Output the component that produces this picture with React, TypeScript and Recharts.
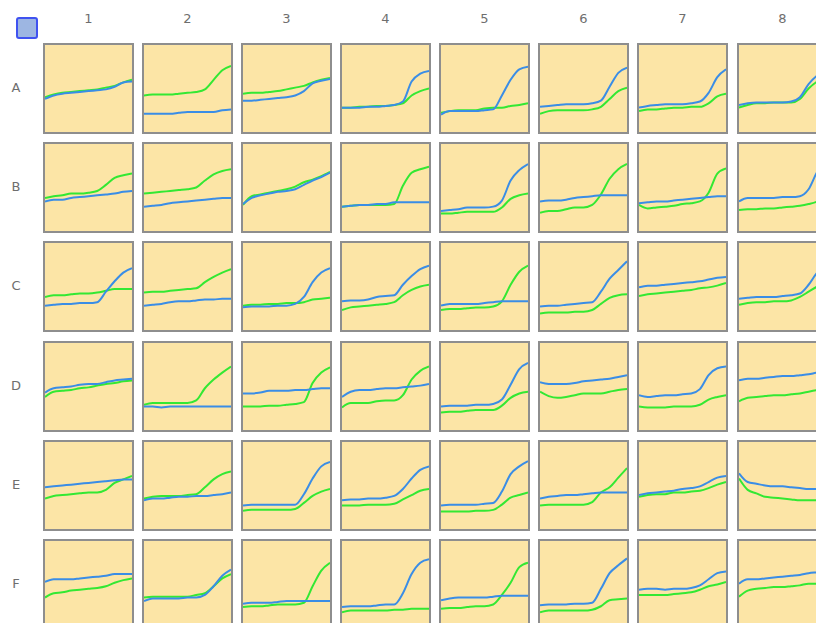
import React from "react";
import { LineChart, Line, XAxis, YAxis } from "recharts";

// plate layout
const rowLabels = ["A", "B", "C", "D", "E", "F"];
const colLabels = ["1", "2", "3", "4", "5", "6", "7", "8"];

// Each well holds two traces sampled at 11 evenly spaced cycles, in % of well height.
const blueA = [
  [38, 42, 44, 45, 46, 47, 48, 49, 52, 57, 58],
  [21, 21, 21, 21, 22, 23, 23, 23, 23, 25, 26],
  [36, 36, 37, 38, 39, 40, 42, 47, 56, 59, 61],
  [28, 28, 28, 29, 29, 30, 31, 35, 58, 67, 70],
  [20, 24, 24, 24, 24, 25, 26, 42, 60, 72, 75],
  [29, 30, 31, 32, 32, 32, 33, 36, 52, 68, 74],
  [28, 30, 31, 32, 32, 32, 33, 35, 45, 63, 72],
  [31, 33, 34, 34, 34, 34, 35, 40, 55, 65, 70],
];
const greenA = [
  [40, 43, 45, 46, 47, 48, 49, 51, 53, 57, 60],
  [42, 43, 43, 43, 44, 45, 46, 49, 60, 71, 76],
  [44, 45, 45, 46, 47, 49, 51, 53, 57, 60, 62],
  [28, 28, 29, 29, 30, 30, 31, 33, 42, 47, 50],
  [22, 24, 25, 25, 25, 27, 28, 28, 30, 31, 33],
  [21, 24, 25, 25, 25, 25, 26, 29, 38, 47, 51],
  [24, 26, 26, 27, 28, 28, 29, 29, 33, 41, 44],
  [28, 31, 33, 33, 34, 34, 34, 38, 50, 58, 62],
];

const blueB = [
  [34, 36, 36, 38, 39, 40, 41, 42, 43, 45, 46],
  [28, 29, 30, 32, 33, 34, 35, 36, 37, 38, 38],
  [31, 38, 41, 43, 45, 46, 48, 53, 58, 62, 67],
  [28, 29, 30, 30, 31, 31, 33, 33, 33, 33, 33],
  [23, 24, 25, 27, 27, 27, 28, 35, 58, 70, 77],
  [34, 35, 35, 36, 38, 39, 40, 41, 41, 41, 41],
  [32, 33, 34, 34, 35, 36, 37, 38, 39, 40, 40],
  [34, 38, 38, 38, 38, 39, 39, 40, 48, 68, 78],
];
const greenB = [
  [38, 40, 41, 43, 43, 44, 46, 53, 61, 64, 66],
  [43, 44, 45, 46, 47, 48, 50, 58, 65, 69, 71],
  [30, 40, 42, 44, 46, 48, 51, 56, 59, 63, 68],
  [28, 29, 30, 30, 30, 30, 31, 52, 67, 71, 74],
  [20, 20, 21, 22, 22, 22, 22, 27, 37, 41, 43],
  [21, 23, 23, 25, 27, 27, 30, 42, 60, 71, 77],
  [30, 26, 27, 28, 29, 31, 32, 34, 44, 66, 72],
  [24, 25, 25, 26, 26, 27, 28, 29, 31, 34, 40],
];

const blueC = [
  [28, 29, 30, 30, 31, 31, 32, 44, 56, 66, 71],
  [28, 29, 30, 32, 33, 33, 34, 35, 35, 36, 36],
  [26, 27, 27, 27, 28, 28, 30, 38, 55, 66, 71],
  [33, 34, 34, 35, 38, 39, 40, 52, 62, 70, 74],
  [28, 30, 30, 30, 30, 31, 32, 33, 33, 33, 33],
  [27, 28, 28, 29, 30, 31, 32, 44, 59, 69, 79],
  [49, 51, 51, 52, 53, 54, 55, 56, 58, 60, 61],
  [36, 37, 38, 38, 38, 39, 40, 42, 52, 66, 72],
];
const greenC = [
  [38, 40, 40, 41, 42, 42, 43, 45, 47, 47, 47],
  [43, 44, 44, 45, 46, 47, 48, 55, 61, 66, 70],
  [28, 29, 29, 30, 30, 31, 31, 32, 35, 36, 37],
  [23, 26, 27, 28, 29, 30, 32, 40, 46, 50, 52],
  [23, 24, 24, 25, 26, 26, 27, 33, 52, 67, 74],
  [19, 20, 20, 20, 21, 21, 23, 30, 37, 40, 41],
  [39, 41, 42, 43, 44, 45, 46, 48, 49, 51, 54],
  [29, 31, 32, 32, 33, 33, 34, 38, 44, 50, 55],
];

const blueD = [
  [43, 48, 49, 50, 52, 53, 53, 55, 57, 58, 59],
  [27, 27, 26, 27, 27, 27, 27, 27, 27, 27, 27],
  [42, 42, 43, 45, 45, 45, 46, 46, 47, 48, 48],
  [38, 44, 46, 46, 47, 48, 48, 49, 50, 51, 53],
  [27, 28, 28, 28, 29, 29, 30, 35, 52, 70, 77],
  [55, 53, 53, 53, 54, 56, 57, 58, 59, 61, 63],
  [40, 38, 39, 40, 40, 41, 42, 47, 63, 71, 73],
  [57, 59, 59, 60, 61, 62, 62, 63, 64, 66, 67],
];
const greenD = [
  [38, 44, 45, 46, 48, 49, 51, 53, 54, 56, 57],
  [29, 31, 31, 31, 31, 31, 34, 48, 58, 66, 73],
  [27, 27, 27, 28, 28, 29, 30, 32, 54, 66, 72],
  [26, 31, 31, 31, 33, 34, 34, 40, 58, 68, 73],
  [20, 21, 21, 22, 23, 23, 23, 28, 37, 42, 44],
  [44, 39, 37, 38, 40, 42, 42, 42, 44, 46, 47],
  [27, 26, 26, 26, 27, 27, 27, 29, 35, 38, 40],
  [33, 37, 38, 39, 40, 40, 41, 42, 44, 46, 48],
];

const blueE = [
  [48, 49, 50, 51, 52, 53, 54, 55, 56, 57, 57],
  [33, 35, 35, 36, 37, 37, 38, 38, 39, 40, 42],
  [27, 28, 28, 28, 28, 28, 28, 40, 58, 72, 77],
  [33, 34, 34, 35, 35, 36, 38, 46, 58, 68, 72],
  [27, 28, 28, 28, 28, 29, 30, 43, 63, 72, 78],
  [35, 37, 38, 39, 39, 40, 41, 42, 42, 42, 42],
  [39, 41, 42, 43, 44, 46, 47, 49, 54, 59, 61],
  [64, 54, 52, 50, 49, 49, 48, 47, 46, 46, 46],
];
const greenE = [
  [35, 38, 39, 40, 41, 42, 42, 45, 53, 57, 61],
  [35, 37, 38, 38, 38, 39, 40, 48, 57, 63, 66],
  [21, 22, 22, 22, 22, 22, 23, 30, 38, 43, 46],
  [27, 27, 27, 28, 28, 28, 29, 34, 39, 44, 46],
  [20, 20, 20, 20, 21, 21, 22, 28, 36, 39, 42],
  [27, 28, 28, 28, 28, 28, 31, 42, 48, 59, 70],
  [37, 39, 40, 40, 42, 42, 43, 44, 47, 51, 54],
  [58, 45, 41, 37, 36, 35, 34, 33, 33, 33, 33],
];

const blueF = [
  [53, 56, 56, 56, 57, 58, 59, 60, 62, 62, 62],
  [31, 34, 34, 34, 34, 35, 35, 38, 48, 60, 67],
  [28, 29, 29, 29, 30, 31, 31, 31, 31, 31, 31],
  [24, 25, 25, 25, 26, 27, 27, 40, 62, 75, 79],
  [32, 34, 35, 35, 35, 35, 36, 37, 37, 37, 37],
  [26, 27, 27, 27, 28, 28, 29, 45, 63, 72, 80],
  [44, 45, 45, 44, 45, 45, 46, 49, 56, 63, 65],
  [51, 56, 56, 57, 58, 59, 60, 61, 63, 64, 65],
];
const greenF = [
  [35, 40, 41, 43, 44, 45, 46, 48, 52, 55, 57],
  [35, 36, 36, 36, 36, 36, 38, 40, 48, 57, 62],
  [24, 25, 25, 26, 27, 27, 27, 29, 48, 66, 75],
  [18, 20, 20, 20, 20, 20, 21, 21, 22, 22, 22],
  [22, 23, 23, 24, 25, 25, 27, 38, 52, 70, 75],
  [18, 20, 20, 20, 20, 20, 21, 25, 32, 33, 34],
  [38, 38, 38, 38, 39, 40, 41, 44, 48, 50, 53],
  [36, 43, 45, 46, 47, 47, 48, 49, 51, 51, 52],
];

const blueRows = [blueA, blueB, blueC, blueD, blueE, blueF];
const greenRows = [greenA, greenB, greenC, greenD, greenE, greenF];

const BLUE = "#3a8de6";
const GREEN = "#33e833";
const CELL = 91;
const INNER = CELL - 4;

const colLeft = (i: number) => Math.round(42.5 + 99.15 * i);
const rowTop = (j: number) => Math.round(42.7 + 99.3 * j);

const labelStyle: React.CSSProperties = {
  position: "absolute",
  fontFamily: "'DejaVu Sans', sans-serif",
  fontSize: 13,
  color: "#6e6e6e",
  lineHeight: "16px",
  textAlign: "center",
};

const Well = ({ blue, green }: { blue: number[]; green: number[] }) => {
  const data = blue.map((b, i) => ({ x: i, blue: b, green: green[i] }));
  return (
    <LineChart width={INNER} height={INNER} data={data} margin={{ top: 0, right: 0, bottom: 0, left: 0 }}>
      <XAxis dataKey="x" type="number" domain={[0, 10]} hide />
      <YAxis type="number" domain={[0, 100]} hide />
      <Line type="monotone" dataKey="green" stroke={GREEN} strokeWidth={2} dot={false} isAnimationActive={false} />
      <Line type="monotone" dataKey="blue" stroke={BLUE} strokeWidth={2} dot={false} isAnimationActive={false} />
    </LineChart>
  );
};

export default function App() {
  return (
    <div
      style={{
        position: "absolute",
        left: 0,
        top: 0,
        width: 816,
        height: 623,
        overflow: "hidden",
        background: "#fff",
      }}
    >
      {/* select-all box */}
      <div
        style={{
          position: "absolute",
          left: 16,
          top: 17,
          width: 22,
          height: 22,
          boxSizing: "border-box",
          border: "2px solid #3f52f0",
          borderRadius: 3,
          background: "#9db6e2",
        }}
      />

      {colLabels.map((c, i) => (
        <div key={c} style={{ ...labelStyle, left: colLeft(i), top: 11, width: CELL }}>
          {c}
        </div>
      ))}

      {rowLabels.map((r, j) => (
        <div key={r} style={{ ...labelStyle, left: 6, top: rowTop(j) + 37, width: 20 }}>
          {r}
        </div>
      ))}

      {rowLabels.map((r, j) =>
        colLabels.map((c, i) => (
          <div
            key={r + c}
            style={{
              position: "absolute",
              left: colLeft(i),
              top: rowTop(j),
              width: CELL,
              height: CELL,
              boxSizing: "border-box",
              border: "2px solid #8e8e8e",
              background: "#fce5a6",
            }}
          >
            <Well blue={blueRows[j][i]} green={greenRows[j][i]} />
          </div>
        ))
      )}
    </div>
  );
}
